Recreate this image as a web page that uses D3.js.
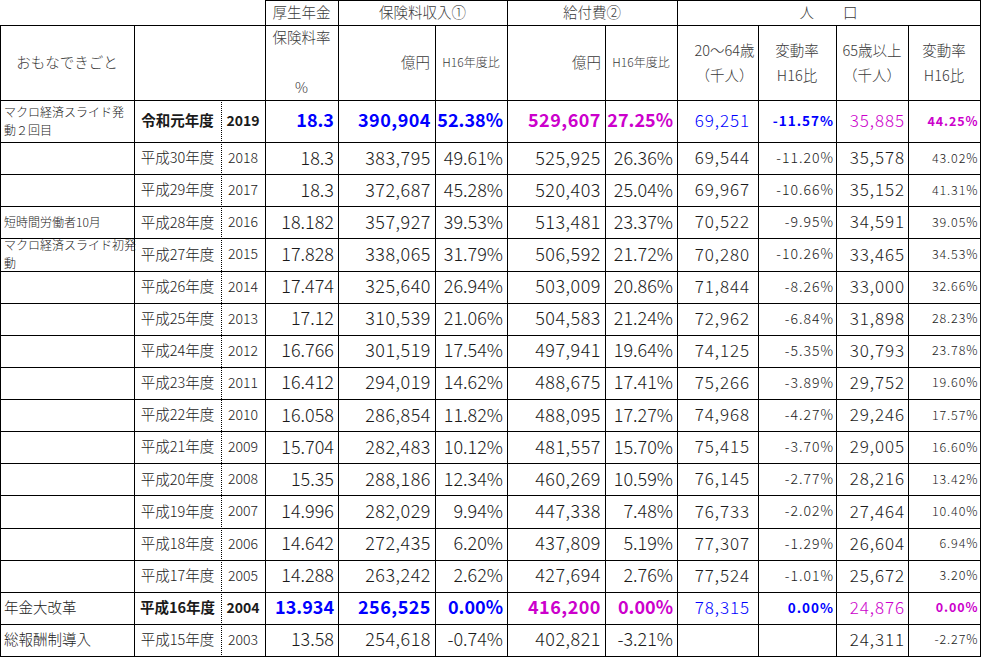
<!DOCTYPE html>
<html>
<head>
<meta charset="utf-8">
<script src="https://cdn.jsdelivr.net/npm/d3@7"></script>
<style>
body { margin: 0; background: #fff; }
svg { display: block; }
text { font-family: "Noto Sans CJK JP", "Noto Sans", sans-serif; }
</style>
</head>
<body>
<div id="chart"></div>
<script>
// table values, top row = newest year
var years = [2019, 2018, 2017, 2016, 2015, 2014, 2013, 2012, 2011, 2010, 2009, 2008, 2007, 2006, 2005, 2004, 2003];
var eras = ['令和元年度', '平成30年度', '平成29年度', '平成28年度', '平成27年度', '平成26年度', '平成25年度', '平成24年度',
	'平成23年度', '平成22年度', '平成21年度', '平成20年度', '平成19年度', '平成18年度', '平成17年度', '平成16年度', '平成15年度'];
var events = [['マクロ経済スライド発', '動２回目'], [], [], ['短時間労働者10月'], ['マクロ経済スライド初発', '動'],
	[], [], [], [], [], [], [], [], [], [], ['年金大改革'], ['総報酬制導入']];
var premiumRate = [18.3, 18.3, 18.3, 18.182, 17.828, 17.474, 17.12, 16.766, 16.412, 16.058, 15.704, 15.35, 14.996, 14.642, 14.288, 13.934, 13.58];
var premiumIncome = [390904, 383795, 372687, 357927, 338065, 325640, 310539, 301519, 294019, 286854, 282483, 288186, 282029, 272435, 263242, 256525, 254618];
var incomeRatio = [52.38, 49.61, 45.28, 39.53, 31.79, 26.94, 21.06, 17.54, 14.62, 11.82, 10.12, 12.34, 9.94, 6.20, 2.62, 0.00, -0.74];
var benefits = [529607, 525925, 520403, 513481, 506592, 503009, 504583, 497941, 488675, 488095, 481557, 460269, 447338, 437809, 427694, 416200, 402821];
var benefitRatio = [27.25, 26.36, 25.04, 23.37, 21.72, 20.86, 21.24, 19.64, 17.41, 17.27, 15.70, 10.59, 7.48, 5.19, 2.76, 0.00, -3.21];
var pop2064 = [69251, 69544, 69967, 70522, 70280, 71844, 72962, 74125, 75266, 74968, 75415, 76145, 76733, 77307, 77524, 78315, null];
var pop2064Chg = [-11.57, -11.20, -10.66, -9.95, -10.26, -8.26, -6.84, -5.35, -3.89, -4.27, -3.70, -2.77, -2.02, -1.29, -1.01, 0.00, null];
var pop65 = [35885, 35578, 35152, 34591, 33465, 33000, 31898, 30793, 29752, 29246, 29005, 28216, 27464, 26604, 25672, 24876, 24311];
var pop65Chg = [44.25, 43.02, 41.31, 39.05, 34.53, 32.66, 28.23, 23.78, 19.60, 17.57, 16.60, 13.42, 10.40, 6.94, 3.20, 0.00, -2.27];
var highlightYears = [2019, 2004];

var W = 981, H = 657;
var colEdges = [0, 134, 221, 265, 338, 435, 507, 605, 677, 758, 836, 908, 980];
var head1 = 25, head2 = 100, firstRowBottom = 142, tableBottom = 656;
var blue = '#0000ff', magenta = '#cc00cc', ink = '#1a1a1a', headInk = '#3a3a3a';
var cjk = '"Noto Sans CJK JP", sans-serif';

var loc = d3.formatLocale({ decimal: '.', thousands: ',', grouping: [3], currency: ['', ''], minus: '-' });
var comma = loc.format(',');
var pct = function (v) { return loc.format('.2f')(v) + '%'; };
var raw = function (v) { return String(v); };

var svg = d3.select('#chart').append('svg').attr('width', W).attr('height', H);

// column positions
var colX = d3.scaleOrdinal().domain(d3.range(colEdges.length)).range(colEdges);
// first data row is taller than the rest
var yRest = d3.scaleBand().domain(years.slice(1)).range([firstRowBottom, tableBottom]);
function rowTop(yr) { return yr === years[0] ? head2 : yRest(yr); }
function rowH(yr) { return yr === years[0] ? firstRowBottom - head2 : yRest.bandwidth(); }
function rowMid(yr) { return rowTop(yr) + rowH(yr) / 2; }

var hl = function (yr) { return highlightYears.indexOf(yr) >= 0; };

var columns = [
	{ col: 1, values: eras, fmt: raw, anchor: 'middle', size: 14.5, hlColor: ink, hlBold: true },
	{ col: 2, values: years, fmt: raw, anchor: 'middle', size: 14, hlColor: ink, hlBold: true },
	{ col: 3, values: premiumRate, fmt: raw, anchor: 'end', pad: 4, size: 18, hlColor: blue, hlBold: true },
	{ col: 4, values: premiumIncome, fmt: comma, anchor: 'end', pad: 4.5, size: 18, hlColor: blue, hlBold: true, ls: 0.5 },
	{ col: 5, values: incomeRatio, fmt: pct, anchor: 'end', pad: 4, size: 18, hlColor: blue, hlBold: true },
	{ col: 6, values: benefits, fmt: comma, anchor: 'end', pad: 4.5, size: 18, hlColor: magenta, hlBold: true, ls: 0.5 },
	{ col: 7, values: benefitRatio, fmt: pct, anchor: 'end', pad: 4, size: 18, hlColor: magenta, hlBold: true },
	{ col: 8, values: pop2064, fmt: comma, anchor: 'end', pad: 9, size: 17, hlColor: blue, hlBold: false, ls: 0.9 },
	{ col: 9, values: pop2064Chg, fmt: pct, anchor: 'end', pad: 3, size: 14, hlSize: 13.5, hlColor: blue, hlBold: true, ls: 1 },
	{ col: 10, values: pop65, fmt: comma, anchor: 'end', pad: 4, size: 17, hlColor: magenta, hlBold: false, ls: 0.9 },
	{ col: 11, values: pop65Chg, fmt: pct, anchor: 'end', pad: 2.5, size: 12.5, hlColor: magenta, hlBold: true, ls: 0.9 }
];

// data cells
var cellG = svg.append('g').attr('class', 'cells');
columns.forEach(function (c) {
	var left = colX(c.col), right = colX(c.col + 1);
	var ls = c.ls || 0;
	var tx = c.anchor === 'middle' ? (left + right) / 2 : right - c.pad + ls;
	cellG.selectAll(null)
		.data(years.map(function (yr, i) { return { yr: yr, v: c.values[i] }; }).filter(function (d) { return d.v != null; }))
		.enter().append('text')
		.attr('x', tx)
		.attr('y', function (d) { return rowMid(d.yr); })
		.attr('dy', '0.36em')
		.attr('text-anchor', c.anchor)
		.style('font-family', cjk)
		.style('font-size', function (d) { return (hl(d.yr) && c.hlSize ? c.hlSize : c.size) + 'px'; })
		.style('font-weight', function (d) { return hl(d.yr) && c.hlBold ? 'bold' : 300; })
		.style('letter-spacing', ls + 'px')
		.attr('fill', function (d) { return hl(d.yr) ? c.hlColor : ink; })
		.text(function (d) { return c.fmt(d.v); });
});

// events column
years.forEach(function (yr, i) {
	var lines = events[i];
	if (!lines.length) return;
	var small = lines.join('').length > 6;
	var fs = small ? 12 : 14.5;
	var gap = 18;
	lines.forEach(function (t, k) {
		svg.append('text')
			.attr('x', colX(0) + 4)
			.attr('y', rowMid(yr) + (k - (lines.length - 1) / 2) * gap)
			.attr('dy', '0.38em')
			.style('font-size', fs + 'px')
			.style('font-weight', 300)
			.attr('fill', '#222')
			.text(t);
	});
});

// header labels
var headers = [
	{ col: 3, span: 1, y: head1 / 2, text: '厚生年金' },
	{ col: 4, span: 2, y: head1 / 2, text: '保険料収入①' },
	{ col: 6, span: 2, y: head1 / 2, text: '給付費②' },
	{ col: 8, span: 4, y: head1 / 2, text: '人　　口' },
	{ col: 0, span: 1, y: 62, text: 'おもなできごと' },
	{ col: 3, span: 1, y: 37, text: '保険料率' },
	{ col: 3, span: 1, y: 87, text: '%' },
	{ col: 4, span: 1, y: 62, text: '億円', anchor: 'end', pad: 5 },
	{ col: 5, span: 1, y: 62, text: 'H16年度比', size: 12 },
	{ col: 6, span: 1, y: 62, text: '億円', anchor: 'end', pad: 4 },
	{ col: 7, span: 1, y: 62, text: 'H16年度比', size: 12 },
	{ col: 8, span: 1, y: 50, text: '20～64歳', shift: 7 },
	{ col: 8, span: 1, y: 75, text: '（千人）', shift: 7 },
	{ col: 9, span: 1, y: 50, text: '変動率' },
	{ col: 9, span: 1, y: 75, text: 'H16比' },
	{ col: 10, span: 1, y: 50, text: '65歳以上' },
	{ col: 10, span: 1, y: 75, text: '（千人）' },
	{ col: 11, span: 1, y: 50, text: '変動率' },
	{ col: 11, span: 1, y: 75, text: 'H16比' }
];
svg.append('g').selectAll('text').data(headers).enter().append('text')
	.attr('x', function (d) {
		var l = colX(d.col), r = colX(d.col + d.span);
		return d.anchor === 'end' ? r - d.pad : (l + r) / 2 + (d.shift || 0);
	})
	.attr('y', function (d) { return d.y; })
	.attr('dy', '0.38em')
	.attr('text-anchor', function (d) { return d.anchor || 'middle'; })
	.style('font-size', function (d) { return (d.size || 14.5) + 'px'; })
	.style('font-weight', 300)
	.attr('fill', headInk)
	.text(function (d) { return d.text; });

// grid lines
var grid = svg.append('g').attr('stroke', '#000').attr('stroke-width', 1).attr('shape-rendering', 'crispEdges');
function hLine(y, x1, x2) { grid.append('line').attr('x1', x1).attr('x2', x2 + 1).attr('y1', y + 0.5).attr('y2', y + 0.5); }
function vLine(x, y1, y2, dotted) {
	var l = grid.append('line').attr('x1', x + 0.5).attr('x2', x + 0.5).attr('y1', y1).attr('y2', y2 + 1);
	if (dotted) l.attr('stroke-dasharray', '1,1');
}
var right = colX(colEdges.length - 1);
hLine(0, colX(3), right);
hLine(head1, 0, right);
hLine(head2, 0, right);
years.forEach(function (yr) { hLine(rowTop(yr) + rowH(yr), 0, right); });

[3, 4, 6, 8, 12].forEach(function (c) { vLine(colX(c), 0, head1); });
[0, 1, 3, 4, 5, 6, 7, 8, 9, 10, 11, 12].forEach(function (c) { vLine(colX(c), head1, head2); });
d3.range(colEdges.length).forEach(function (c) {
	vLine(colX(c), head2, tableBottom, c === 2);
});
</script>
</body>
</html>
